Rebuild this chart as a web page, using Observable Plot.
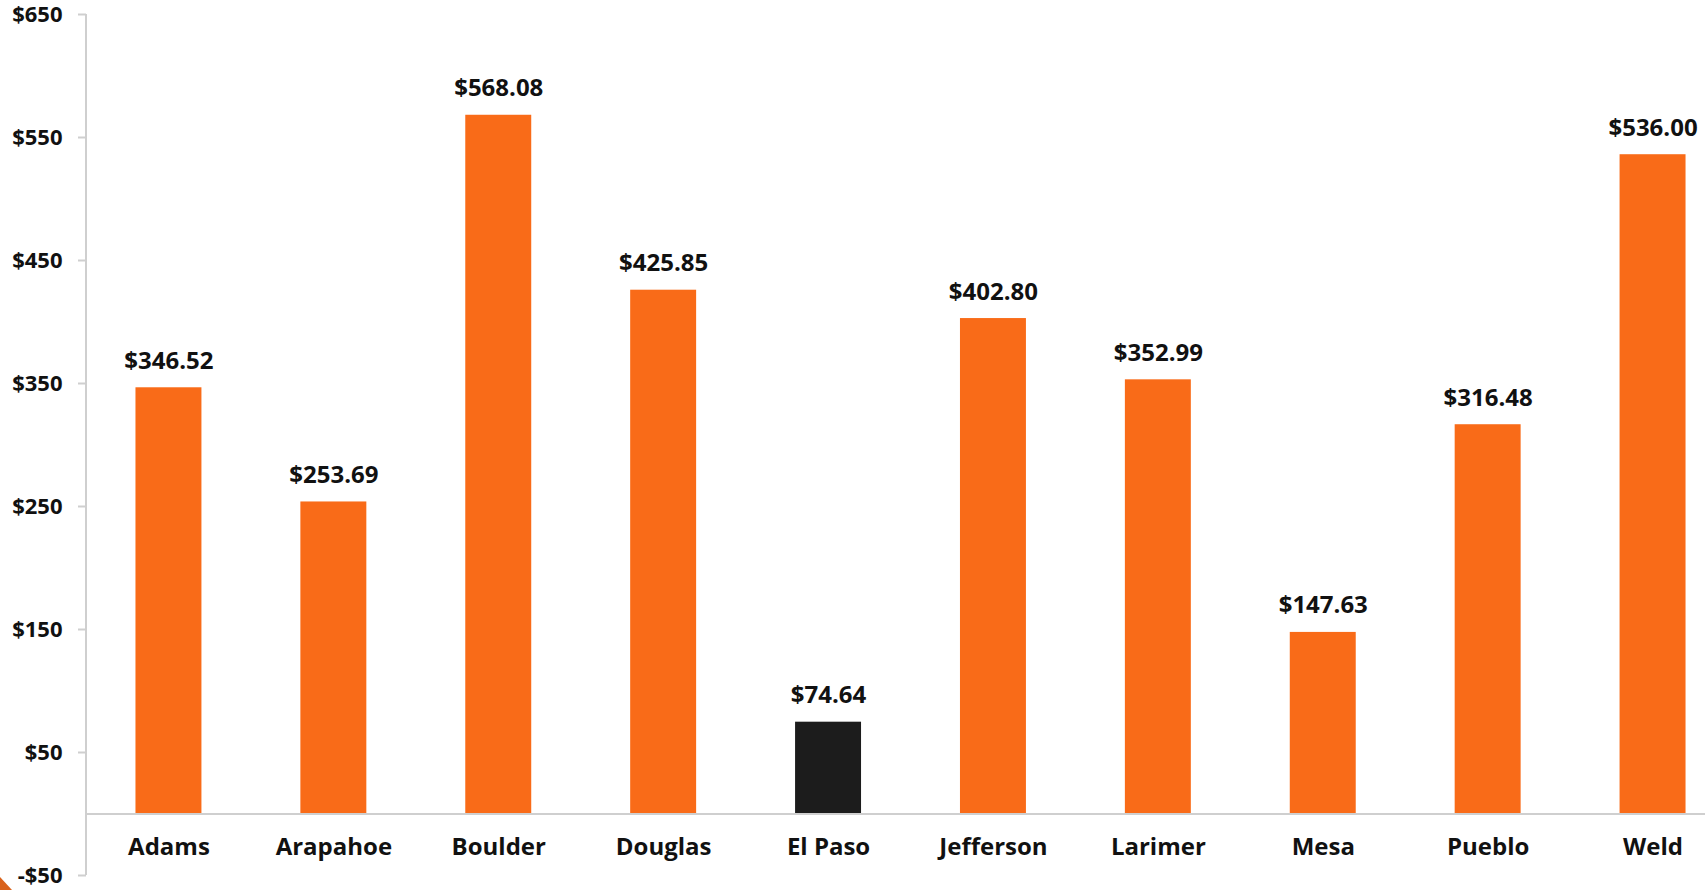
<!DOCTYPE html>
<html>
<head>
<meta charset="utf-8">
<script src="https://cdn.jsdelivr.net/npm/d3@7"></script>
<script src="https://cdn.jsdelivr.net/npm/@observablehq/plot@0.6"></script>
<style>
  html, body { margin: 0; padding: 0; background: #fff; overflow: hidden; }
  #chart { position: relative; width: 1705px; height: 890px; overflow: hidden; }
  #chart svg { overflow: hidden; display: block; }
  #corner { position: absolute; left: 0; bottom: 0; width: 0; height: 0;
    border-left: 12px solid #D9621C; border-top: 13px solid transparent; }
</style>
</head>
<body>
<div id="chart"></div>
<script>
const counties = ["Adams", "Arapahoe", "Boulder", "Douglas", "El Paso", "Jefferson", "Larimer", "Mesa", "Pueblo", "Weld"];
const values = [346.52, 253.69, 568.08, 425.85, 74.64, 402.80, 352.99, 147.63, 316.48, 536.00];
const highlight = ["El Paso"];
const yTicks = [650, 550, 450, 350, 250, 150, 50, -50];

const data = counties.map((c, i) => ({county: c, value: values[i], hl: highlight.includes(c)}));
const font = "'Open Sans', 'DejaVu Sans', sans-serif";
const money = d => (d < 0 ? "-$" + Math.abs(d) : "$" + d);

const plot = Plot.plot({
  width: 1705,
  height: 890,
  marginTop: 14,
  marginBottom: 15,
  marginLeft: 86,
  marginRight: -30,
  style: {fontFamily: font, background: "#fff", overflow: "hidden"},
  x: {domain: counties, paddingInner: 0.6, paddingOuter: 0.3, round: false, axis: null},
  y: {domain: [-50, 650], axis: null},
  marks: [
    Plot.barY(data, {x: "county", y: "value", fill: d => d.hl ? "#1C1C1C" : "#F96B18"}),
    Plot.ruleY([0], {stroke: "#CFCFCF", strokeWidth: 2}),
    Plot.axisY({ticks: yTicks, tickFormat: money, tickSize: 8, tickPadding: 16,
      stroke: "#CFCFCF", strokeWidth: 2, fill: "#111", fontSize: 22, fontWeight: "bold", label: null}),
    Plot.text(data, {x: "county", y: "value", text: d => "$" + d.value.toFixed(2),
      lineAnchor: "bottom", dy: -19, fontSize: 24, fontWeight: "bold", fill: "#111"}),
    Plot.text(data, {x: "county", text: "county", frameAnchor: "bottom", lineAnchor: "middle",
      dy: -28, fontSize: 24, fontWeight: "bold", fill: "#111"})
  ]
});
document.getElementById("chart").appendChild(plot);

// vertical axis line along the left edge of the frame, using the y scale
const ys = plot.scale("y");
const [r0, r1] = ys.range;
d3.select(plot).append("line")
  .attr("x1", 86).attr("x2", 86)
  .attr("y1", r0).attr("y2", r1)
  .attr("stroke", "#CFCFCF").attr("stroke-width", 2);

const corner = document.createElement("div");
corner.id = "corner";
document.getElementById("chart").appendChild(corner);
</script>
</body>
</html>
